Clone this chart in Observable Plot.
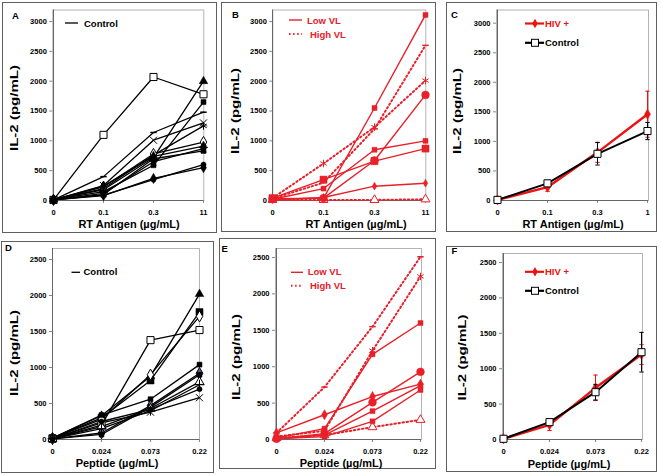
<!DOCTYPE html>
<html><head><meta charset="utf-8">
<script src="https://cdn.jsdelivr.net/npm/d3@7"></script>
<script src="https://cdn.jsdelivr.net/npm/@observablehq/plot@0.6"></script>
<style>
html,body{margin:0;padding:0;background:#fff;}
body{width:661px;height:475px;position:relative;overflow:hidden;font-family:"Liberation Sans",Arial,sans-serif;}
.box{position:absolute;border:1px solid #606060;box-sizing:border-box;pointer-events:none;}
</style></head><body>
<script>
// ---------- categories / ticks ----------
const rtAntigen = ["0", "0.1", "0.3", "11"];
const rtAntigenC = ["0", "0.1", "0.3", "1"];
const peptide = ["0", "0.024", "0.073", "0.22"];
const ticksRT = [0, 500, 1000, 1500, 2000, 2500, 3000];
const ticksPep = [0, 500, 1000, 1500, 2000, 2500];

// ---------- Panel A: controls, RT antigen ----------
const aSeries = [
  [10, 1100, 2070, 1780],
  [20, 180, 720, 2000],
  [15, 150, 590, 1650],
  [10, 400, 1140, 1480],
  [10, 250, 1010, 1300],
  [10, 200, 760, 1250],
  [10, 230, 780, 980],
  [10, 240, 740, 910],
  [10, 120, 650, 870],
  [10, 100, 700, 830],
  [10, 90, 350, 600],
  [10, 80, 370, 550]
];
const aMarkers = ["squareOpen","triangle","square","dash","times","asterisk","diamondOpen","diamond","star","square","circle","diamond"];

// ---------- Panel B: HIV+, RT antigen ----------
const bLowVL = [
  [20, 40, 1550, 3110],
  [30, 40, 670, 1770],
  [20, 200, 850, 1000],
  [40, 350, 660, 870],
  [10, 50, 240, 290]
];
const bLowMarkers = ["square","circleBig","square","squareBig","diamondSmall"];
const bHighVL = [
  [40, 620, 1230, 2010],
  [30, 300, 1200, 2600],
  [10, 10, 10, 20]
];
const bHighMarkers = ["asterisk","dash","triangleOpen"];

// ---------- Panel C: means, RT antigen ----------
const cHiv = [10, 225, 815, 1460];
const cHivErr = [10, 70, 170, 390];
const cControl = [10, 290, 790, 1175];
const cControlErr = [10, 50, 190, 145];

// ---------- Panel D: controls, peptide ----------
const dSeries = [
  [20, 330, 880, 2020],
  [20, 300, 820, 1770],
  [20, 280, 900, 1710],
  [10, 200, 1380, 1520],
  [20, 340, 560, 1040],
  [10, 90, 470, 920],
  [10, 70, 450, 900],
  [10, 180, 430, 800],
  [10, 150, 400, 760],
  [10, 250, 420, 700],
  [10, 230, 380, 580]
];
const dMarkers = ["triangle","squareBig","diamondOpen","squareOpen","square","diamondPurple","square","triangleOpen","plus","circle","times"];

// ---------- Panel E: HIV+, peptide ----------
const eLowVL = [
  [20, 150, 1170, 1600],
  [10, 80, 510, 930],
  [90, 340, 590, 760],
  [10, 60, 390, 740],
  [10, 40, 250, 680]
];
const eLowMarkers = ["square","circleBig","diamond","square","square"];
const eHighVL = [
  [90, 720, 1550, 2510],
  [40, 120, 1220, 2240],
  [20, 60, 170, 270]
];
const eHighMarkers = ["dash","asterisk","triangleOpen"];

// ---------- Panel F: means, peptide ----------
const fHiv = [10, 207, 730, 1200];
const fHivErr = [10, 80, 180, 140];
const fControl = [10, 245, 668, 1233];
const fControlErr = [10, 40, 110, 280];

// ---------- layout (page pixels) ----------
const layout = {
  A: {box:[2,2,217,233],   x:[52.3,203.3], y0:200, top:9.5, ref:[3000,21]},
  B: {box:[221,2,436,232], x:[272.3,425.3], y0:200, top:9.5, ref:[3000,21]},
  C: {box:[446,2,657,232], x:[496,648], y0:200, top:9.5, ref:[3000,22.7]},
  D: {box:[1,241,214,473], x:[52,199], y0:439, top:248, ref:[2500,259]},
  E: {box:[219,238,436,469], x:[275,421], y0:439, top:248, ref:[2500,257]},
  F: {box:[446,246,657,472], x:[502,642], y0:439, top:253, ref:[2500,262]}
};

const RED = "#e8202a";
const DOTS = "1.5,2.6";
const dashSymbol = {draw(ctx, size){ const r = Math.sqrt(size/Math.PI); ctx.moveTo(-r,0); ctx.lineTo(r,0); }};

function markerStyle(name, color){
  switch(name){
    case "square": return {symbol:"square", r:2.8, fill:color, stroke:color, strokeWidth:0.5};
    case "squareBig": return {symbol:"square", r:4, fill:color, stroke:color, strokeWidth:0.5};
    case "squareOpen": return {symbol:"square", r:4, fill:"white", stroke:color, strokeWidth:1};
    case "triangle": return {symbol:"triangle", r:3.2, fill:color, stroke:color, strokeWidth:0.5};
    case "triangleOpen": return {symbol:"triangle", r:3.3, fill:"white", stroke:color, strokeWidth:1};
    case "diamond": return {symbol:"diamond", r:3.1, fill:color, stroke:color, strokeWidth:0.5};
    case "diamondSmall": return {symbol:"diamond", r:2.4, fill:color, stroke:color, strokeWidth:0.5};
    case "diamondOpen": return {symbol:"diamond", r:3.4, fill:"white", stroke:color, strokeWidth:1};
    case "diamondPurple": return {symbol:"diamond", r:3.5, fill:"#6a5a9a", stroke:color, strokeWidth:1};
    case "circle": return {symbol:"circle", r:2.6, fill:color, stroke:color, strokeWidth:0.5};
    case "circleBig": return {symbol:"circle", r:3.9, fill:color, stroke:color, strokeWidth:0.5};
    case "times": return {symbol:"times", r:3.3, fill:"none", stroke:color, strokeWidth:1};
    case "asterisk": return {symbol:"asterisk", r:3.5, fill:"none", stroke:color, strokeWidth:1};
    case "plus": return {symbol:"plus", r:3.3, fill:"none", stroke:color, strokeWidth:1};
    case "star": return {symbol:"star", r:2.8, fill:color, stroke:color, strokeWidth:0.5};
    case "dash": return {symbol:dashSymbol, r:3.2, fill:"none", stroke:color, strokeWidth:1.5};
  }
}

function toRows(vals, cats, errs){
  return vals.map((v,j)=>({x:cats[j], y:v, e: errs ? errs[j] : 0}));
}

function seriesMarks(list, markers, cats, color, width, dotted){
  const lines = list.map(vals => Plot.line(toRows(vals,cats), {x:"x", y:"y", stroke:color, strokeWidth:width,
    ...(dotted ? {strokeDasharray:DOTS} : {})}));
  const dots = list.map((vals,i) => Plot.dot(toRows(vals,cats), {x:"x", y:"y", ...markerStyle(markers[i], color)}));
  return {lines, dots};
}

function meanMarks(vals, errs, cats, color, marker, width){
  const rows = toRows(vals, cats, errs);
  return [
    Plot.ruleX(rows, {x:"x", y1:d=>d.y-d.e, y2:d=>d.y+d.e, stroke:color, strokeWidth:1}),
    Plot.dot(rows, {x:"x", y:d=>d.y-d.e, symbol:dashSymbol, r:2.2, stroke:color, strokeWidth:1}),
    Plot.dot(rows, {x:"x", y:d=>d.y+d.e, symbol:dashSymbol, r:2.2, stroke:color, strokeWidth:1}),
    Plot.line(rows, {x:"x", y:"y", stroke:color, strokeWidth:width}),
    Plot.dot(rows, {x:"x", y:"y", ...markerStyle(marker, color)})
  ];
}

function makePanel(key, cats, yTicks, marks){
  const L = layout[key];
  const [l,t,r,b] = L.box;
  const top = L.ref[0]*(L.y0-L.top)/(L.y0-L.ref[1]);
  const chart = Plot.plot({
    width: r-l, height: b-t,
    marginLeft: L.x[0]-l, marginRight: r-L.x[1], marginTop: L.top-t, marginBottom: b-L.y0,
    x: {type:"point", domain:cats, padding:0},
    y: {domain:[0, top]},
    style: {fontFamily:"'Liberation Sans', Arial, sans-serif", fontSize:"7.5px", fontWeight:"bold", color:"#000", background:"transparent", overflow:"visible"},
    marks: [
      Plot.frame({stroke:"#b4b4b4"}),
      Plot.axisY({ticks:yTicks, tickFormat:d3.format("d"), tickSize:3, tickPadding:3, stroke:"#888", label:null}),
      Plot.axisX({tickSize:3, tickPadding:6, stroke:"#888", label:null}),
      Plot.ruleX([cats[0]], {stroke:"#666"}),
      Plot.ruleY([0], {stroke:"#666"}),
      ...marks
    ]
  });
  chart.style.position = "absolute";
  chart.style.left = l + "px";
  chart.style.top = t + "px";
  document.body.append(chart);
  const bx = document.createElement("div");
  bx.className = "box";
  Object.assign(bx.style, {left:l+"px", top:t+"px", width:(r-l)+"px", height:(b-t)+"px"});
  document.body.append(bx);
}

// Panel A
{
  const s = seriesMarks(aSeries, aMarkers, rtAntigen, "#000", 1.3, false);
  makePanel("A", rtAntigen, ticksRT, [...s.lines, ...s.dots]);
}
// Panel B
{
  const lo = seriesMarks(bLowVL, bLowMarkers, rtAntigen, RED, 1.4, false);
  const hi = seriesMarks(bHighVL, bHighMarkers, rtAntigen, RED, 2, true);
  makePanel("B", rtAntigen, ticksRT, [...hi.lines, ...lo.lines, ...hi.dots, ...lo.dots]);
}
// Panel C
makePanel("C", rtAntigenC, ticksRT, [
  ...meanMarks(cHiv, cHivErr, rtAntigenC, "#ee1111", "diamond", 2.4),
  ...meanMarks(cControl, cControlErr, rtAntigenC, "#000", "squareOpen", 2)
]);
// Panel D
{
  const s = seriesMarks(dSeries, dMarkers, peptide, "#000", 1.3, false);
  makePanel("D", peptide, ticksPep, [...s.lines, ...s.dots]);
}
// Panel E
{
  const lo = seriesMarks(eLowVL, eLowMarkers, peptide, RED, 1.4, false);
  const hi = seriesMarks(eHighVL, eHighMarkers, peptide, RED, 2, true);
  makePanel("E", peptide, ticksPep, [...hi.lines, ...lo.lines, ...hi.dots, ...lo.dots]);
}
// Panel F
makePanel("F", peptide, ticksPep, [
  ...meanMarks(fHiv, fHivErr, peptide, "#ee1111", "diamond", 2.4),
  ...meanMarks(fControl, fControlErr, peptide, "#000", "squareOpen", 2)
]);

// ---------- overlay text: panel letters, titles, legends ----------
const ov = d3.select("body").append("svg")
  .attr("width",661).attr("height",475)
  .style("position","absolute").style("left","0px").style("top","0px")
  .style("font-family","'Liberation Sans', Arial, sans-serif").style("font-weight","bold");

function text(x,y,s,size,opts={}){
  const t = ov.append("text").attr("x",x).attr("y",y).attr("font-size",size).attr("fill",opts.fill||"#000").text(s);
  if(opts.anchor) t.attr("text-anchor",opts.anchor);
  return t;
}
[["A",12,18.5],["B",232,17.5],["C",451,17.5],["D",5,251],["E",221.5,252],["F",451.5,253.5]]
  .forEach(([s,x,y])=>text(x,y,s,9.5));

const yTitles = [[17.5,108],[239,111],[461,111],[17.5,353],[239.5,357],[466,357.5]];
yTitles.forEach(([x,y])=>{
  ov.append("text").attr("transform",`translate(${x},${y}) rotate(-90)`).attr("text-anchor","middle")
    .attr("font-size",11.5).attr("textLength",86).attr("lengthAdjust","spacingAndGlyphs").text("IL-2 (pg/mL)");
});
[[129,228,"RT Antigen (µg/mL)"],[356,227.5,"RT Antigen (µg/mL)"],[573,227.5,"RT Antigen (µg/mL)"],
 [117,467,"Peptide (µg/mL)"],[341,467,"Peptide (µg/mL)"],[569,468,"Peptide (µg/mL)"]]
  .forEach(([x,y,s])=>text(x,y,s,11,{anchor:"middle"}));

function legLine(x1,x2,y,color,w,dash){
  const l = ov.append("line").attr("x1",x1).attr("x2",x2).attr("y1",y).attr("y2",y).attr("stroke",color).attr("stroke-width",w);
  if(dash) l.attr("stroke-dasharray",dash);
}
// A, D legends
legLine(65,78,23,"#000",1.3); text(84,26.5,"Control",9.5);
legLine(71.5,80,272.3,"#000",1.3); text(83.5,275.3,"Control",9.5);
// B, E legends
legLine(289,302,20,RED,1.4); text(307,23.8,"Low VL",9.5,{fill:RED});
legLine(289,302,34,RED,2,DOTS); text(310,37.5,"High VL",9.5,{fill:RED});
legLine(291,303,272.3,RED,1.4); text(307.7,275.3,"Low VL",9.5,{fill:RED});
legLine(291,303,285.7,RED,2,DOTS); text(310,288.6,"High VL",9.5,{fill:RED});
// C, F legends
function legMean(y, color, label, marker){
  legLine(525,544,y,color,2.2);
  if(marker==="diamond") ov.append("path").attr("d",d3.symbol(d3.symbolDiamond, 26)()).attr("transform",`translate(535,${y})`).attr("fill",color);
  else ov.append("rect").attr("x",531.5).attr("y",y-3.5).attr("width",7).attr("height",7).attr("fill","white").attr("stroke",color);
  text(545,y+3.4,label,9.5,{fill:color});
}
legMean(23.5,"#ee1111","HIV +","diamond");
legMean(42.8,"#000","Control","square");
legMean(271.8,"#ee1111","HIV +","diamond");
legMean(290.8,"#000","Control","square");
</script>
</body></html>
